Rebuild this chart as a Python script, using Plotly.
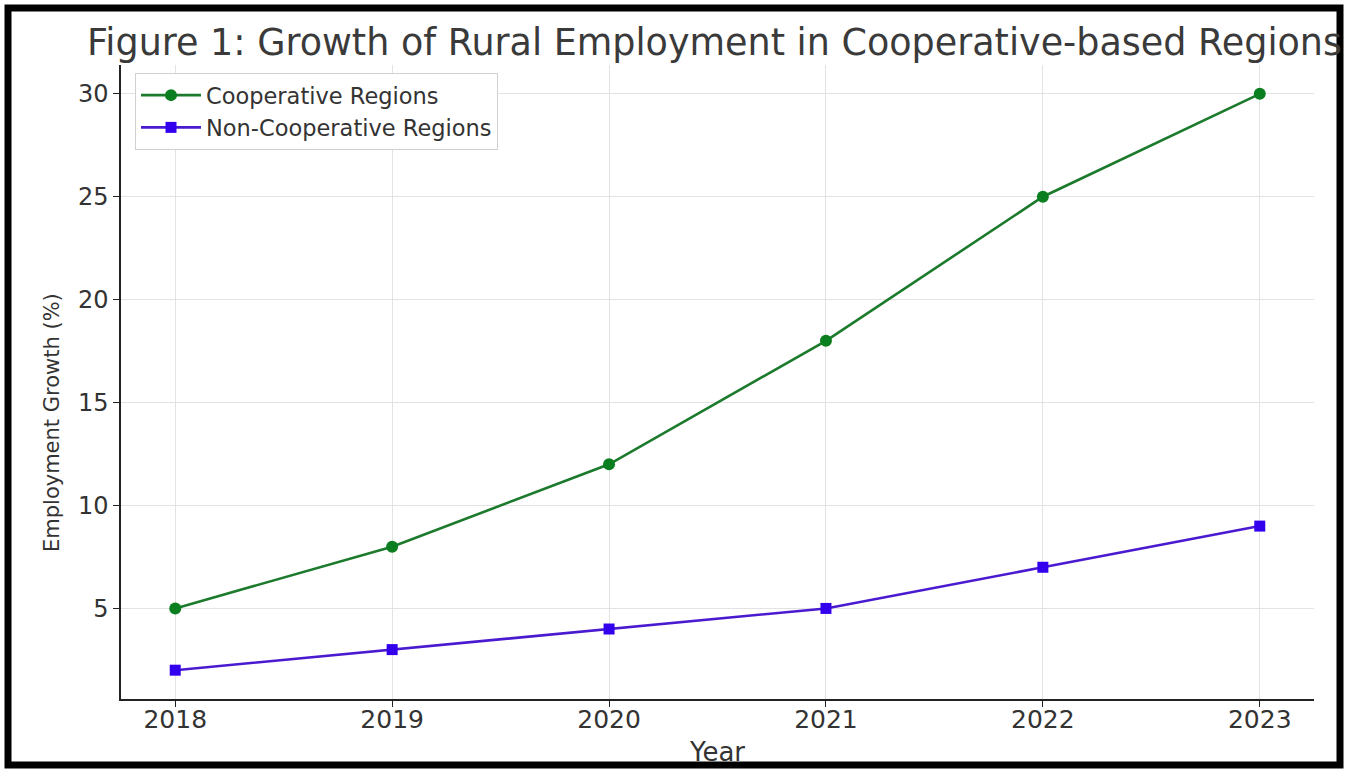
import plotly.graph_objects as go

years = [2018, 2019, 2020, 2021, 2022, 2023]
coop = [5, 8, 12, 18, 25, 30]
noncoop = [2, 3, 4, 5, 7, 9]
series_names = ["Cooperative Regions", "Non-Cooperative Regions"]
title_text = "Figure 1: Growth of Rural Employment in Cooperative-based Regions"
x_label = "Year"
y_label = "Employment Growth (%)"
y_ticks = [5, 10, 15, 20, 25, 30]

W, H = 1347, 769
L, R, T, B = 121, 33, 65, 70
pw, ph = W - L - R, H - T - B


def px2x(px):
    return (px - L) / pw


def px2y(py):
    return (H - B - py) / ph


FONT = "DejaVu Sans"
TXT = "#333333"

fig = go.Figure()
fig.add_trace(go.Scatter(
    x=years, y=coop, name=series_names[0], mode="lines+markers",
    line=dict(color="#1c7a2c", width=2.6),
    marker=dict(symbol="circle", size=12, color="#0b7f1f"),
))
fig.add_trace(go.Scatter(
    x=years, y=noncoop, name=series_names[1], mode="lines+markers",
    line=dict(color="#4a1ad0", width=2.6),
    marker=dict(symbol="square", size=11, color="#3300ee"),
))

fig.update_layout(
    template="none",
    width=W, height=H,
    margin=dict(l=L, r=R, t=T, b=B, pad=0),
    paper_bgcolor="white", plot_bgcolor="white",
    font=dict(family=FONT, color=TXT),
    showlegend=True,
    legend=dict(
        x=px2x(135), y=px2y(73), xanchor="left", yanchor="top",
        bgcolor="white", bordercolor="#d0d0d0", borderwidth=1,
        font=dict(family=FONT, size=22.5, color=TXT),
        itemwidth=60, tracegroupgap=0,
    ),
    xaxis=dict(
        range=[2017.75, 2023.25], tickmode="array", tickvals=years,
        ticktext=[str(y) for y in years],
        showline=True, linecolor="#222222", linewidth=1.5, mirror=False,
        ticks="outside", ticklen=6, tickwidth=1.2, tickcolor="#222222",
        showgrid=True, gridcolor="#e3e3e3", gridwidth=1, zeroline=False,
        tickfont=dict(family=FONT, size=25, color=TXT),
        ticklabelstandoff=-9,
    ),
    yaxis=dict(
        range=[0.6, 31.4], tickmode="array", tickvals=y_ticks,
        showline=True, linecolor="#222222", linewidth=1.5, mirror=False,
        ticks="outside", ticklen=6, tickwidth=1.2, tickcolor="#222222",
        showgrid=True, gridcolor="#e3e3e3", gridwidth=1, zeroline=False,
        tickfont=dict(family=FONT, size=24, color=TXT),
    ),
    annotations=[
        dict(text=title_text, xref="paper", yref="paper",
             x=px2x(85), y=px2y(42), xanchor="left", yanchor="middle",
             showarrow=False, font=dict(family=FONT, size=36.5, color="#3a3a3a")),
        dict(text=x_label, xref="paper", yref="paper",
             x=px2x(717), y=px2y(752), xanchor="center", yanchor="middle",
             showarrow=False, font=dict(family=FONT, size=26, color=TXT)),
        dict(text=y_label, xref="paper", yref="paper",
             x=px2x(52), y=px2y(423), xanchor="center", yanchor="middle",
             textangle=-90, showarrow=False,
             font=dict(family=FONT, size=21, color=TXT)),
    ],
    shapes=[
        dict(type="rect", xref="paper", yref="paper", layer="above",
             x0=px2x(8), x1=px2x(1340), y0=px2y(765), y1=px2y(8),
             line=dict(color="black", width=7), fillcolor="rgba(0,0,0,0)"),
    ],
)

fig.write_html(
    "out.html",
    config={"displayModeBar": False},
    post_script="document.body.style.margin='0px';document.body.style.overflow='hidden';",
)
